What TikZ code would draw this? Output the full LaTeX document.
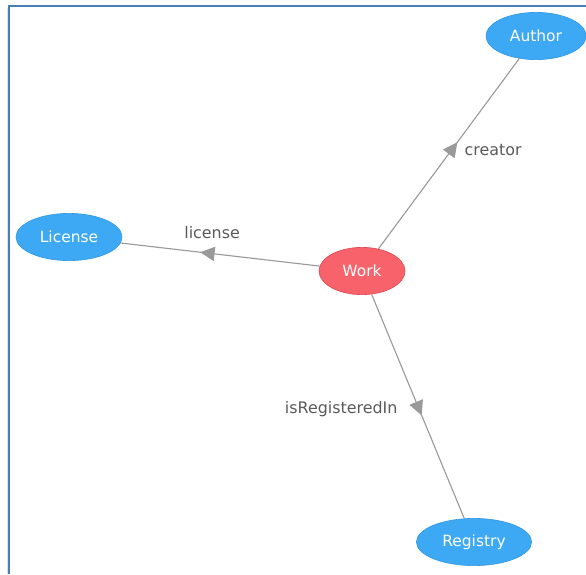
\documentclass[tikz,border=0pt]{standalone}
\usepackage{fontspec}
\setmainfont{DejaVu Sans}
\usetikzlibrary{shapes.geometric,arrows.meta,decorations.markings}
\definecolor{nodeblue}{HTML}{3DA9F4}
\definecolor{nodeblueline}{HTML}{2E95E0}
\definecolor{workred}{HTML}{F8626B}
\definecolor{workredline}{HTML}{E0404A}
\definecolor{edgegray}{HTML}{9A9A9A}
\definecolor{labgray}{HTML}{5A5A5A}
\definecolor{frameblue}{HTML}{4A7EBB}
\tikzset{
  cls/.style={ellipse,draw=nodeblueline,fill=nodeblue,text=white,inner sep=0pt,
    minimum height=1.18cm,font=\fontsize{11}{13}\selectfont},
  rel/.style={draw=edgegray,line width=0.8pt,postaction={decorate},
    decoration={markings,mark=at position #1 with {\arrow[edgegray]{Triangle[length=0.36cm,width=0.36cm]}}}},
  rel/.default=0.5,
  lab/.style={text=labgray,font=\fontsize{11.3}{13}\selectfont,inner sep=0pt}
}
\begin{document}
\begin{tikzpicture}[x=0.025cm,y=-0.025cm]
\useasboundingbox (0,0) rectangle (586,574);
% frame
\draw[black!12,line width=0.6pt](7.5,8)--(7.5,574);
\draw[frameblue,line width=1.6pt](9,574)--(9,6)--(586,6);
% nodes
\node[cls,minimum width=2.5cm] (author) at (536,36) {Author};
\node[cls,minimum width=2.65cm] (license) at (69,237) {License};
\node[cls,minimum width=2.15cm,draw=workredline,fill=workred] (work) at (362,271) {Work};
\node[cls,minimum width=2.88cm] (registry) at (474,542) {Registry};
% relations
\draw[rel=0.56](work)--(author) node[lab,pos=0.5,anchor=west,xshift=0.38cm,yshift=0.1cm]{creator};
\draw[rel=0.6](work)--(license) node[lab,pos=0.5,xshift=-0.2cm,yshift=0.55cm]{license};
\draw[rel=0.54](work)--(registry) node[lab,pos=0.5,anchor=east,xshift=-0.5cm,yshift=-0.08cm]{isRegisteredIn};
\end{tikzpicture}
\end{document}
